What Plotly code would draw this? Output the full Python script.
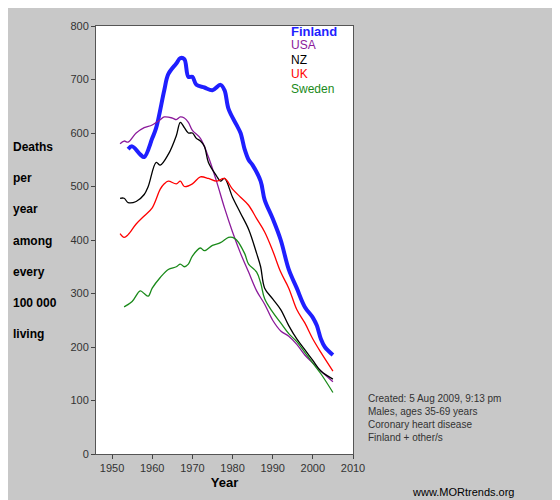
import plotly.graph_objects as go

fin_x = [1954,1955,1957,1958,1960,1961,1963,1964,1966,1967,1968,1969,1970,1971,1973,1975,1977,1978,1979,1981,1982,1983,1984,1985,1987,1988,1990,1992,1994,1996,1998,2000,2001,2002,2003,2005]
fin_y = [570,575,560,555,590,610,680,710,730,740,738,705,705,690,685,680,690,680,645,615,600,570,550,540,510,475,440,400,345,310,275,255,240,215,200,185]
usa_x = [1952,1953,1954,1956,1958,1960,1962,1963,1965,1966,1967,1968,1969,1970,1972,1974,1976,1978,1980,1982,1984,1986,1988,1990,1992,1994,1996,1998,2000,2002,2005]
usa_y = [580,585,583,600,610,615,625,630,628,625,630,628,620,605,590,555,510,460,415,375,340,305,280,250,230,220,205,185,170,155,135]
nz_x = [1952,1953,1954,1956,1958,1959,1961,1962,1964,1966,1967,1968,1969,1970,1971,1972,1973,1974,1976,1977,1978,1980,1982,1984,1986,1987,1988,1990,1992,1994,1996,1998,2000,2002,2005]
nz_y = [478,478,470,472,485,500,545,540,560,595,620,610,600,600,590,585,575,545,520,510,515,480,450,420,375,350,310,290,270,240,215,195,175,155,140]
uk_x = [1952,1953,1954,1956,1958,1960,1962,1963,1964,1966,1967,1968,1970,1972,1974,1976,1978,1980,1982,1984,1986,1988,1990,1992,1994,1996,1998,2000,2002,2005]
uk_y = [412,405,410,430,445,460,495,505,510,505,510,500,505,518,515,510,515,495,480,465,440,415,380,340,310,270,245,215,190,155]
swe_x = [1953,1955,1957,1958,1959,1960,1962,1964,1966,1967,1968,1969,1970,1972,1973,1975,1977,1979,1980,1981,1983,1984,1986,1987,1988,1990,1992,1994,1996,1998,2000,2002,2005]
swe_y = [275,285,305,300,295,310,330,345,350,355,350,355,370,385,380,390,395,405,405,400,375,355,340,320,290,265,245,225,210,190,170,150,115]

series = [("Finland", fin_x, fin_y, "#1f1fff", 4),
          ("USA", usa_x, usa_y, "#8b1a9b", 1.3),
          ("NZ", nz_x, nz_y, "#000000", 1.3),
          ("UK", uk_x, uk_y, "#ff0000", 1.3),
          ("Sweden", swe_x, swe_y, "#1a8a1a", 1.3)]

fig = go.Figure()
for i, (name, x, y, c, w) in enumerate(series):
    fig.add_trace(go.Scatter(x=x, y=y, mode="lines", name=name,
                             line=dict(color=c, width=w, shape="spline")))
    fig.add_annotation(x=0.75, y=1.01 - i * 0.034, xref="paper", yref="paper",
                       text=f"<b>{name}</b>" if i == 0 else name, showarrow=False,
                       xanchor="left", yanchor="top",
                       font=dict(color=c, size=13 if i == 0 else 12))

fig.add_annotation(x=-0.33, y=0.5, xref="paper", yref="paper", showarrow=False,
                   align="left", xanchor="left", yanchor="middle",
                   text="<b>Deaths<br><br>per<br><br>year<br><br>among<br><br>every<br><br>100 000<br><br>living</b>",
                   font=dict(size=12, color="#000"))
fig.add_annotation(x=1.05, y=0.02, xref="paper", yref="paper", showarrow=False,
                   align="left", xanchor="left", yanchor="bottom",
                   text="Created: 5 Aug 2009, 9:13 pm<br>Males, ages 35-69 years<br>Coronary heart disease<br>Finland + other/s",
                   font=dict(size=10, color="#333"))
fig.add_annotation(x=1.22, y=-0.07, xref="paper", yref="paper", showarrow=False,
                   xanchor="left", yanchor="top", text="www.MORtrends.org",
                   font=dict(size=11, color="#000"))

fig.update_layout(
    width=560, height=500, showlegend=False,
    paper_bgcolor="#c8c8c8", plot_bgcolor="white",
    font=dict(family="Arial, sans-serif", size=11, color="#333"),
    margin=dict(l=88, r=215, t=15, b=54),
    xaxis=dict(range=[1946, 2010], tickvals=[1950,1960,1970,1980,1990,2000,2010],
               showgrid=False, zeroline=False, ticks="outside", ticklen=4,
               showline=True, linecolor="#555", mirror=True,
               title=dict(text="<b>Year</b>", font=dict(size=13, color="#000"), standoff=4)),
    yaxis=dict(range=[0, 800], dtick=100, showgrid=False, zeroline=False,
               ticks="outside", ticklen=4, showline=True, linecolor="#555", mirror=True),
)
fig.write_html("out.html")
